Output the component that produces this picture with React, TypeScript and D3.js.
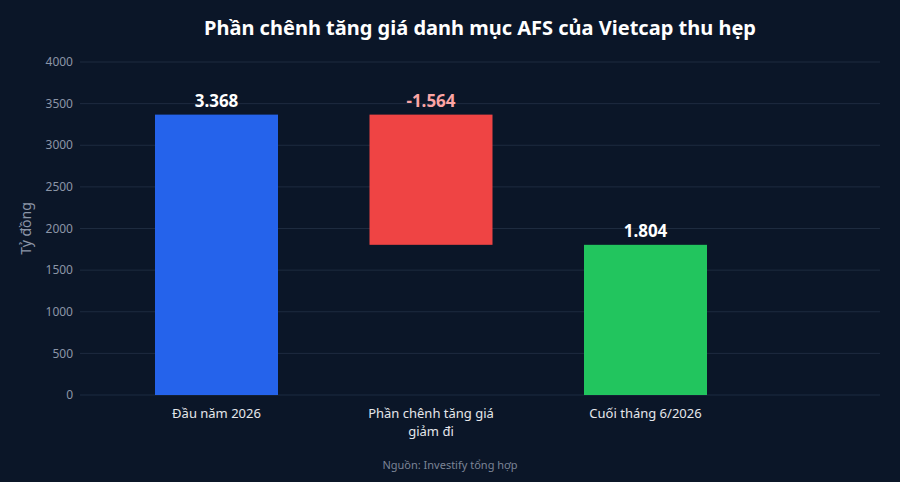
import React from "react";
import * as d3 from "d3";

const categories = ["Đầu năm 2026", "Phần chênh tăng giá|giảm đi", "Cuối tháng 6/2026"];
const values = [3368, -1564, 1804];
const measures = ["absolute", "relative", "total"];
const valueLabels = ["3.368", "-1.564", "1.804"];
const barColors = ["#2563eb", "#ef4444", "#22c55e"];
const labelColors = ["#ffffff", "#fca5a5", "#ffffff"];
const yTicks = [0, 500, 1000, 1500, 2000, 2500, 3000, 3500, 4000];

const width = 900;
const height = 482;
const margin = { top: 62, right: 20, bottom: 87, left: 80 };
const font = "'Noto Sans', 'Open Sans', sans-serif";

const App = () => {
  const y = d3.scaleLinear().domain([0, 4000]).range([height - margin.bottom, margin.top]);
  const x = d3.scalePoint().domain(categories).range([216.5, 645.5]);
  const barW = 123;

  // running totals for the waterfall
  let running = 0;
  const bars = values.map((v, i) => {
    let y0, y1;
    if (measures[i] === "absolute") { y0 = 0; y1 = v; running = v; }
    else if (measures[i] === "relative") { y0 = running; y1 = running + v; running += v; }
    else { y0 = 0; y1 = v; }
    return { cat: categories[i], lo: Math.min(y0, y1), hi: Math.max(y0, y1), top: Math.max(y0, y1), i };
  });

  return (
    <svg width={width} height={height} style={{ display: "block", position: "absolute", left: 0, top: 0, background: "#0b1628" }}>
      <rect width={width} height={height} fill="#0b1628" />
      <text x={480} y={35} textAnchor="middle" fill="#ffffff" fontFamily={font} fontSize={20} fontWeight={700}>
        Phần chênh tăng giá danh mục AFS của Vietcap thu hẹp
      </text>
      {yTicks.map(t => (
        <g key={t} transform={`translate(0,${y(t)})`}>
          <line x1={margin.left} x2={width - margin.right} stroke={t === 0 ? "#1c2a40" : "#1e2b3f"} strokeWidth={1} />
          <text x={73} dy="0.35em" textAnchor="end" fill="#8b95a7" fontFamily={font} fontSize={12}>{t}</text>
        </g>
      ))}
      <text transform={`translate(31,${(y(0) + y(4000)) / 2}) rotate(-90)`} textAnchor="middle" fill="#8b95a7" fontFamily={font} fontSize={14}>
        Tỷ đồng
      </text>
      {bars.map(b => (
        <g key={b.cat}>
          <rect x={x(b.cat)! - barW / 2} y={y(b.hi)} width={barW} height={y(b.lo) - y(b.hi)} fill={barColors[b.i]} />
          <text x={x(b.cat)} y={y(b.top) - 8} textAnchor="middle" fill={labelColors[b.i]} fontFamily={font} fontSize={17} fontWeight={700}>
            {valueLabels[b.i]}
          </text>
          {b.cat.split("|").map((line, j) => (
            <text key={j} x={x(b.cat)} y={y(0) + 23 + j * 18} textAnchor="middle" fill="#e5e7eb" fontFamily={font} fontSize={13}>
              {line}
            </text>
          ))}
        </g>
      ))}
      <text x={450} y={469} textAnchor="middle" fill="#7b8496" fontFamily={font} fontSize={11}>
        Nguồn: Investify tổng hợp
      </text>
    </svg>
  );
};

export default App;
